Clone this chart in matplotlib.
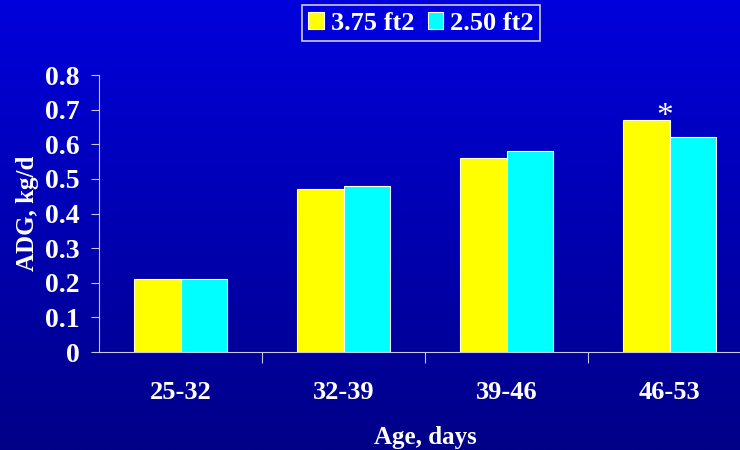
import numpy as np
import matplotlib.pyplot as plt
from matplotlib.colors import LinearSegmentedColormap

# data
groups = ["25-32", "32-39", "39-46", "46-53"]
big_space = [0.21, 0.47, 0.56, 0.67]    # 3.75 ft2
small_space = [0.21, 0.48, 0.58, 0.62]  # 2.50 ft2
labels = ["3.75 ft2", "2.50 ft2"]

plt.rcParams["font.family"] = ["Liberation Serif", "DejaVu Serif"]
plt.rcParams["font.weight"] = "bold"
plt.rcParams["axes.labelweight"] = "bold"

fig = plt.figure(figsize=(7.4, 4.5), dpi=100)

# blue gradient background
bg = fig.add_axes([0, 0, 1, 1], zorder=-1)
grad = np.linspace(0, 1, 256).reshape(-1, 1)
cmap = LinearSegmentedColormap.from_list("bg", ["#0000DC", "#000088"])
bg.imshow(grad, aspect="auto", cmap=cmap, extent=[0, 1, 0, 1])
bg.axis("off")

ax = fig.add_axes([99 / 740, 98 / 450, 652 / 740, 277 / 450])
ax.patch.set_alpha(0)

x = np.arange(len(groups))
w = 0.288
ax.bar(x - w / 2, big_space, w, color="#FFFF00", edgecolor="white", linewidth=0.8, label=labels[0])
ax.bar(x + w / 2, small_space, w, color="#00FFFF", edgecolor="white", linewidth=0.8, label=labels[1])

# significance mark over the 46-53 yellow bar
ax.text(x[3] - 0.028, big_space[3] - 0.036, "*", color="white", fontsize=24,
        fontweight="normal", ha="center", va="bottom")

ax.set_xlim(-0.5, len(groups) - 0.5)
ax.set_ylim(0, 0.8)
ax.set_yticks(np.arange(0, 0.81, 0.1))
ax.set_yticklabels(["0"] + ["%.1f" % v for v in np.arange(0.1, 0.81, 0.1)])

ax.set_xticks(x[:-1] + 0.5)
ax.set_xticklabels([])
ax.set_xticks(x, minor=True)
ax.set_xticklabels(groups, minor=True)
ax.tick_params(axis="x", which="major", length=8, color="#C8C8E8", direction="out")
ax.tick_params(axis="x", which="minor", length=0, pad=21, labelsize=19, labelcolor="white")
ax.tick_params(axis="y", length=6, color="#C8C8E8", pad=8, labelsize=20, labelcolor="white")

for s in ["top", "right"]:
    ax.spines[s].set_visible(False)
for s in ["left", "bottom"]:
    ax.spines[s].set_color("#C8C8E8")

ax.set_xlabel("Age, days", color="white", fontsize=18, labelpad=16)
ax.set_ylabel("ADG, kg/d", color="white", fontsize=18, labelpad=4)

leg = fig.legend(loc="upper center", bbox_to_anchor=(421 / 740, 1.0), ncol=2,
                 fontsize=19, frameon=True, fancybox=False, handlelength=0.6,
                 handleheight=0.6, handletextpad=0.25, columnspacing=0.5,
                 borderpad=0.25, borderaxespad=0.2)
leg.get_frame().set_facecolor("#0000E0")
leg.get_frame().set_edgecolor("white")
leg.get_frame().set_linewidth(1.2)
for t in leg.get_texts():
    t.set_color("white")

fig.savefig("out.png", dpi=100)
